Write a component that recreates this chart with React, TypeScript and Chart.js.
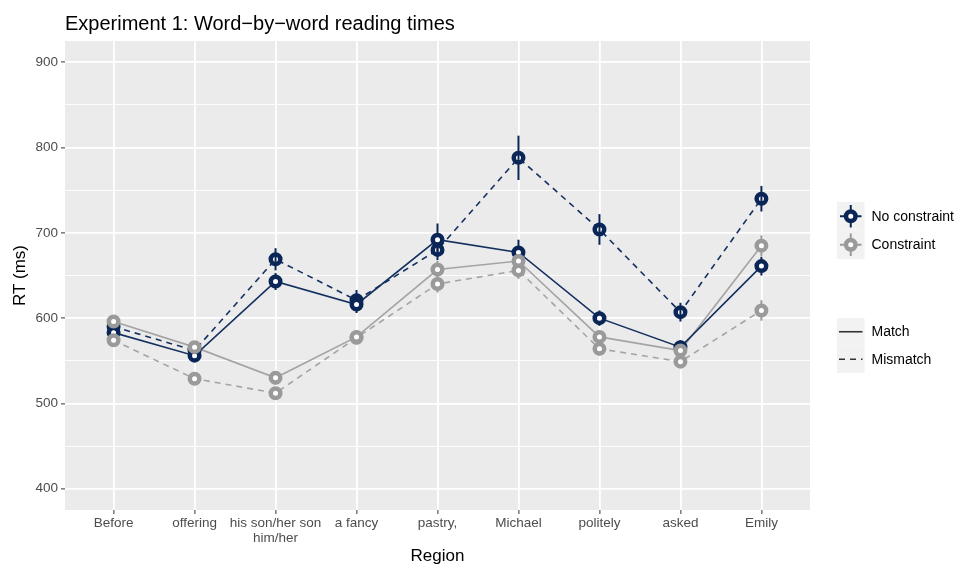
import React, { useEffect, useRef } from "react";
import { Chart, registerables } from "chart.js";

Chart.register(...registerables);

// ---- Data ----
const regions: (string | string[])[] = [
  "Before",
  "offering",
  ["his son/her son", "him/her"],
  "a fancy",
  "pastry,",
  "Michael",
  "politely",
  "asked",
  "Emily",
];

const noConstraintMatch = [583, 556, 643, 616, 692, 677, 600, 566, 661];
const noConstraintMatchErr = [8, 7, 10, 10, 19, 15, 9, 8, 11];
const noConstraintMismatch = [590, 562, 669, 621, 680, 788, 704, 607, 740];
const noConstraintMismatchErr = [8, 8, 13, 12, 12, 26, 18, 11, 15];
const constraintMatch = [596, 566, 530, 578, 657, 667, 578, 562, 685];
const constraintMatchErr = [7, 7, 8, 8, 10, 10, 8, 7, 12];
const constraintMismatch = [574, 529, 512, 577, 640, 656, 564, 549, 609];
const constraintMismatchErr = [7, 6, 7, 8, 10, 10, 8, 7, 12];

const yTickValues = [400, 450, 500, 550, 600, 650, 700, 750, 800, 850, 900];
const yMin = 375;
const yMax = 925;

const titleText = "Experiment 1: Word\u2212by\u2212word reading times";
const yTitle = "RT (ms)";
const xTitle = "Region";
const colourLegend = ["No constraint", "Constraint"];
const linetypeLegend = ["Match", "Mismatch"];

// ---- Styles ----
const FONT = '"Liberation Sans", Arial, sans-serif';
const NAVY = "#0a2657";
const NAVY_LINE = "#14305f";
const GRAY = "#9a9a9a";
const GRAY_LINE = "#a4a4a4";
const PANEL = "#ebebeb";
const DASH = [6, 5];
const PT_R = 4.75;
const PT_W = 4.5;

const toXY = (arr: number[]) => arr.map((y, i) => ({ x: i, y }));

const panelPlugin = {
  id: "panelBg",
  beforeDraw(chart: any) {
    const { ctx, chartArea } = chart;
    ctx.save();
    ctx.fillStyle = "#ffffff";
    ctx.fillRect(0, 0, chart.width, chart.height);
    ctx.fillStyle = PANEL;
    ctx.fillRect(chartArea.left, chartArea.top, chartArea.right - chartArea.left, chartArea.bottom - chartArea.top);
    ctx.restore();
  },
};

const errorBarPlugin = {
  id: "errorBars",
  beforeDatasetDraw(chart: any, args: any) {
    const ds = chart.data.datasets[args.index];
    if (!ds.drawAllErrors) return;
    const { ctx } = chart;
    const xs = chart.scales.x;
    const ys = chart.scales.y;
    ctx.save();
    chart.data.datasets.forEach((d: any) => {
      if (!d.errors) return;
      ctx.strokeStyle = d.pointBorderColor;
      ctx.lineWidth = 2;
      d.data.forEach((p: any, i: number) => {
        const e = d.errors[i];
        const px = xs.getPixelForValue(p.x);
        ctx.beginPath();
        ctx.moveTo(px, ys.getPixelForValue(p.y - e));
        ctx.lineTo(px, ys.getPixelForValue(p.y + e));
        ctx.stroke();
      });
    });
    ctx.restore();
  },
};

const drawPoint = (ctx: CanvasRenderingContext2D, x: number, y: number, color: string) => {
  ctx.beginPath();
  ctx.arc(x, y, PT_R, 0, Math.PI * 2);
  ctx.fillStyle = "#ffffff";
  ctx.fill();
  ctx.lineWidth = PT_W;
  ctx.strokeStyle = color;
  ctx.stroke();
};

const decorPlugin = {
  id: "decor",
  afterDraw(chart: any) {
    const { ctx, chartArea } = chart;
    ctx.save();
    // title
    ctx.fillStyle = "#000000";
    ctx.font = `20px ${FONT}`;
    ctx.textBaseline = "alphabetic";
    ctx.textAlign = "left";
    ctx.fillText(titleText, chartArea.left, 29.5);

    // legends
    const kx = chartArea.right + 27;
    const kw = 27.5;
    const kh = 28.5;
    const cy = (chartArea.top + chartArea.bottom) / 2;
    ctx.font = `14px ${FONT}`;
    ctx.textBaseline = "middle";

    // colour legend
    const colours = [NAVY, GRAY];
    const top1 = cy - 73.5;
    colourLegend.forEach((lab, i) => {
      const y0 = top1 + i * kh;
      ctx.fillStyle = "#f2f2f2";
      ctx.fillRect(kx, y0, kw, kh);
      const mx = kx + kw / 2;
      const my = y0 + kh / 2;
      ctx.strokeStyle = colours[i];
      ctx.lineWidth = 2;
      ctx.beginPath();
      ctx.moveTo(kx + 3, my);
      ctx.lineTo(kx + kw - 3, my);
      ctx.moveTo(mx, y0 + 3);
      ctx.lineTo(mx, y0 + kh - 3);
      ctx.stroke();
      drawPoint(ctx, mx, my, colours[i]);
      ctx.fillStyle = "#000000";
      ctx.fillText(lab, kx + kw + 7, my + 0.5);
    });

    // linetype legend
    const top2 = cy + 42.5;
    linetypeLegend.forEach((lab, i) => {
      const y0 = top2 + i * 27.5;
      ctx.fillStyle = "#f2f2f2";
      ctx.fillRect(kx, y0, kw, 27.5);
      const my = y0 + 27.5 / 2;
      ctx.strokeStyle = "#333333";
      ctx.lineWidth = 1.6;
      ctx.setLineDash(i === 1 ? [6, 5] : []);
      ctx.beginPath();
      ctx.moveTo(kx + 2, my);
      ctx.lineTo(kx + kw - 2, my);
      ctx.stroke();
      ctx.setLineDash([]);
      ctx.fillStyle = "#000000";
      ctx.fillText(lab, kx + kw + 7, my + 0.5);
    });
    ctx.restore();
  },
};

export default function App() {
  const ref = useRef<HTMLCanvasElement | null>(null);

  useEffect(() => {
    if (!ref.current) return;
    const lineDs = (label: string, data: number[], color: string, dashed: boolean) => ({
      label,
      data: toXY(data),
      borderColor: color,
      borderWidth: 1.6,
      borderDash: dashed ? DASH : [],
      pointRadius: 0,
      pointHoverRadius: 0,
      fill: false,
      tension: 0,
      order: 2,
    });
    const pointDs = (label: string, data: number[], errs: number[], color: string, order: number, drawAll: boolean) => ({
      label,
      data: toXY(data),
      errors: errs,
      drawAllErrors: drawAll,
      showLine: false,
      pointRadius: PT_R,
      pointHoverRadius: PT_R,
      pointBorderWidth: PT_W,
      pointHoverBorderWidth: PT_W,
      pointBackgroundColor: "#ffffff",
      pointBorderColor: color,
      borderColor: color,
      order,
    });

    const chart = new Chart(ref.current, {
      type: "line",
      data: {
        datasets: [
          lineDs("NC match", noConstraintMatch, NAVY_LINE, false),
          lineDs("NC mismatch", noConstraintMismatch, NAVY_LINE, true),
          lineDs("C match", constraintMatch, GRAY_LINE, false),
          lineDs("C mismatch", constraintMismatch, GRAY_LINE, true),
          pointDs("NC match pts", noConstraintMatch, noConstraintMatchErr, NAVY, 1, true),
          pointDs("NC mismatch pts", noConstraintMismatch, noConstraintMismatchErr, NAVY, 1, false),
          pointDs("C match pts", constraintMatch, constraintMatchErr, GRAY, 0, false),
          pointDs("C mismatch pts", constraintMismatch, constraintMismatchErr, GRAY, 0, false),
        ] as any,
      },
      options: {
        responsive: false,
        animation: false,
        events: [],
        layout: { padding: { left: 0, top: 41, right: 146, bottom: 0 } },
        plugins: {
          legend: { display: false },
          title: { display: false },
          tooltip: { enabled: false },
        },
        scales: {
          x: {
            type: "linear",
            min: -0.6,
            max: regions.length - 1 + 0.6,
            afterBuildTicks: (scale: any) => {
              scale.ticks = regions.map((_, i) => ({ value: i }));
            },
            afterFit: (scale: any) => {
              scale.height = 56;
            },
            ticks: {
              autoSkip: false,
              maxRotation: 0,
              minRotation: 0,
              padding: 2,
              color: "#4d4d4d",
              font: { family: FONT, size: 13.5, lineHeight: 1.12 },
              callback: (v: any) => regions[Number(v)] as any,
            },
            grid: {
              color: "#ffffff",
              lineWidth: 1.8,
              tickColor: "#333333",
              tickLength: 4,
              tickWidth: 1,
            },
            border: { display: false },
            title: {
              display: true,
              text: xTitle,
              color: "#000000",
              font: { family: FONT, size: 17, lineHeight: 1.2 },
              padding: { top: 0, bottom: -1 },
            },
          },
          y: {
            type: "linear",
            min: yMin,
            max: yMax,
            afterBuildTicks: (scale: any) => {
              scale.ticks = yTickValues.map((v) => ({ value: v }));
            },
            afterFit: (scale: any) => {
              scale.width = 65;
            },
            ticks: {
              autoSkip: false,
              padding: 3,
              color: "#4d4d4d",
              font: { family: FONT, size: 13.5 },
              callback: (v: any) => (Number(v) % 100 === 0 ? String(v) : ""),
            },
            grid: {
              color: "#ffffff",
              lineWidth: (c: any) => (c.tick && c.tick.value % 100 === 0 ? 1.8 : 0.9),
              tickColor: (c: any) => (c.tick && c.tick.value % 100 === 0 ? "#333333" : "rgba(0,0,0,0)"),
              tickLength: 4,
              tickWidth: 1,
            },
            border: { display: false },
            title: {
              display: true,
              text: yTitle,
              color: "#000000",
              font: { family: FONT, size: 17, lineHeight: 1.2 },
              padding: { top: 10, bottom: 0 },
            },
          },
        },
      } as any,
      plugins: [panelPlugin, errorBarPlugin, decorPlugin],
    });
    return () => chart.destroy();
  }, []);

  return (
    <div style={{ position: "fixed", left: 0, top: 0, width: 956, height: 566, background: "#fff" }}>
      <canvas ref={ref} width={956} height={566} style={{ width: 956, height: 566 }} />
    </div>
  );
}
